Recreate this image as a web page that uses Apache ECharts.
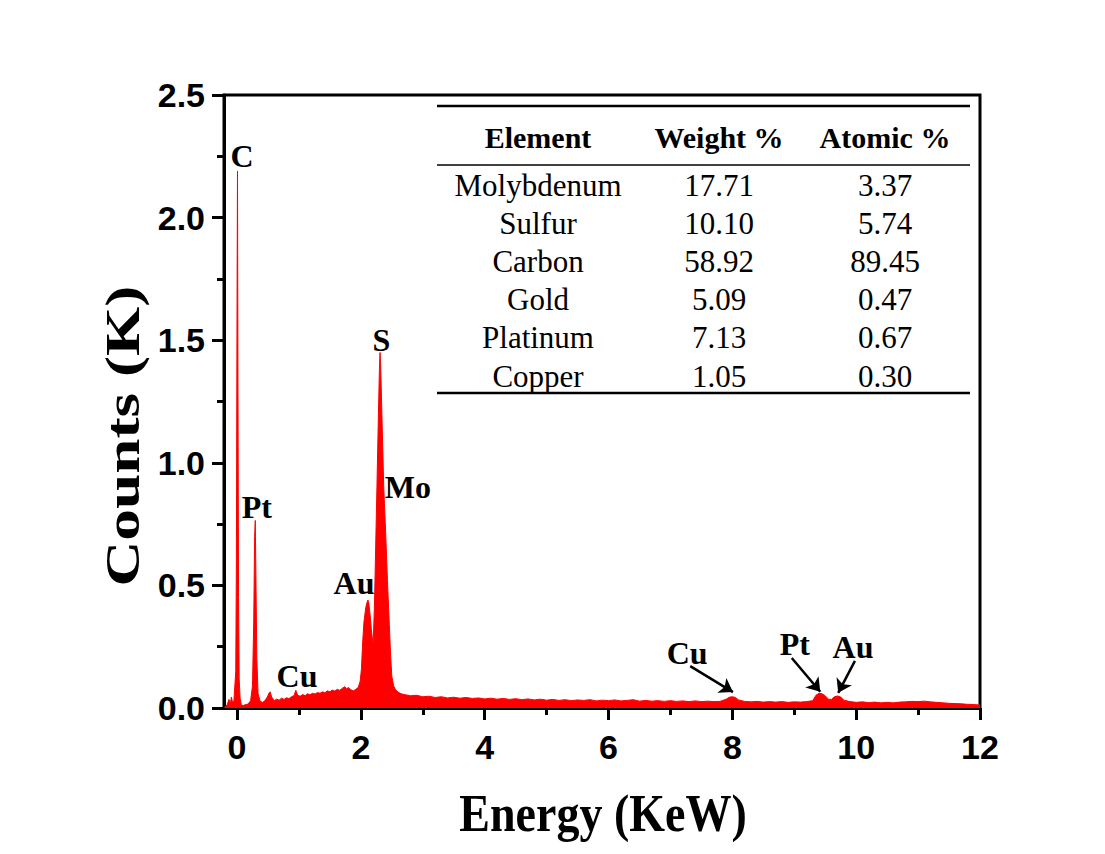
<!DOCTYPE html>
<html>
<head>
<meta charset="utf-8">
<script src="https://cdn.jsdelivr.net/npm/echarts@6/dist/echarts.min.js"></script>
<style>
html,body{margin:0;padding:0;background:#fff;}
#chart{width:1105px;height:854px;}
</style>
</head>
<body>
<div id="chart"></div>
<script>
// ---- Spectrum (energy in keV, counts in K) ----
const energyKeV = [
 -0.20,-0.16,-0.13,-0.11,-0.09,-0.07,-0.05,-0.04,-0.02,-0.01,0.0,0.008,0.016,0.025,0.035,0.05,0.07,0.10,0.14,0.18,
 0.22,0.25,0.27,0.285,0.295,0.305,0.32,0.34,0.37,0.41,0.45,0.49,0.52,0.535,0.56,
 0.60,0.64,0.68,0.72,0.76,0.80,0.84,0.88,0.92,0.95,0.98,1.02,1.06,1.10,1.14,1.18,1.22,1.26,1.30,1.34,1.38,1.42,1.46,1.50,
 1.54,1.58,1.62,1.66,1.70,1.74,1.77,1.80,1.84,1.88,1.92,1.96,1.99,2.01,2.03,2.05,2.08,2.10,2.115,2.13,2.15,2.17,2.19,2.20,
 2.22,2.24,2.26,2.28,2.29,2.30,2.31,2.32,2.34,2.37,2.40,2.43,2.46,2.48,2.50,2.53,2.56,2.60,2.65,
 2.7,2.8,2.9,3.0,3.1,3.2,3.3,3.4,3.5,3.6,3.7,3.8,3.9,4.0,4.1,4.2,4.3,4.4,4.5,4.6,4.7,4.8,4.9,5.0,
 5.1,5.2,5.3,5.4,5.5,5.6,5.7,5.8,5.9,6.0,6.1,6.2,6.3,6.4,6.5,6.6,6.7,6.8,6.9,7.0,7.1,7.2,7.3,7.4,7.5,7.6,7.7,7.8,
 7.9,7.95,8.0,8.05,8.1,8.2,8.3,8.4,8.5,8.6,8.7,8.8,8.9,9.0,9.1,9.2,9.3,9.35,9.4,9.45,9.5,9.55,9.6,9.65,9.7,9.75,9.8,9.9,
 10.0,10.1,10.2,10.3,10.4,10.5,10.6,10.7,10.8,10.9,11.0,11.1,11.2,11.3,11.4,11.5,11.6,11.7,11.8,11.9,12.0
];
const countsK = [
 0.004,0.012,0.035,0.015,0.045,0.02,0.03,0.03,0.15,0.6,1.6,2.19,1.3,0.45,0.12,0.04,0.012,0.01,0.014,0.016,
 0.03,0.09,0.35,0.70,0.765,0.55,0.20,0.06,0.03,0.022,0.03,0.045,0.062,0.066,0.045,
 0.03,0.036,0.032,0.04,0.035,0.042,0.038,0.046,0.05,0.072,0.052,0.048,0.055,0.05,0.058,0.054,0.06,0.057,0.063,0.06,0.066,0.062,0.07,0.066,
 0.073,0.069,0.076,0.072,0.08,0.087,0.078,0.084,0.074,0.07,0.076,0.085,0.11,0.16,0.27,0.35,0.41,0.43,0.44,0.425,0.38,0.32,0.275,0.265,
 0.42,0.66,0.9,1.15,1.27,1.38,1.45,1.40,1.2,0.9,0.72,0.52,0.34,0.22,0.13,0.09,0.075,0.065,0.058,
 0.055,0.05,0.052,0.046,0.048,0.043,0.046,0.041,0.044,0.04,0.043,0.039,0.041,0.037,0.04,0.036,0.039,0.035,0.038,0.034,0.037,0.033,0.036,0.032,
 0.035,0.031,0.034,0.03,0.033,0.031,0.034,0.029,0.032,0.03,0.033,0.029,0.031,0.034,0.028,0.031,0.028,0.03,0.027,0.03,0.027,0.029,0.026,0.029,0.026,0.028,0.026,0.027,
 0.036,0.044,0.046,0.043,0.033,0.027,0.025,0.027,0.024,0.026,0.024,0.026,0.023,0.025,0.024,0.026,0.03,0.052,0.06,0.058,0.05,0.036,0.035,0.046,0.049,0.045,0.032,0.026,
 0.023,0.025,0.022,0.024,0.021,0.023,0.021,0.024,0.025,0.027,0.026,0.028,0.025,0.023,0.021,0.019,0.018,0.017,0.015,0.014,0.012
];

// ---- Axis ticks ----
const xMajorTicks = [0, 2, 4, 6, 8, 10, 12];
const xMinorTicks = [1, 3, 5, 7, 9, 11];

// ---- Peak labels (text, energy keV, counts K) ----
const peakLabelText = ['C', 'Pt', 'Cu', 'Au', 'S', 'Mo', 'Cu', 'Pt', 'Au'];
const peakLabelKeV  = [0.08, 0.32, 0.97, 1.89, 2.33, 2.76, 7.27, 9.01, 9.95];
const peakLabelK    = [2.25, 0.82, 0.13, 0.51, 1.50, 0.90, 0.225, 0.26, 0.25];

// ---- Arrows (from -> to, in keV / K) ----
const arrowFromKeV = [7.32, 8.96, 9.98];
const arrowFromK   = [0.171, 0.204, 0.192];
const arrowToKeV   = [8.01, 9.42, 9.71];
const arrowToK     = [0.065, 0.066, 0.062];

// ---- Inset table ----
const tableHeader = ['Element', 'Weight %', 'Atomic %'];
const tableElements = ['Molybdenum', 'Sulfur', 'Carbon', 'Gold', 'Platinum', 'Copper'];
const tableWeight = ['17.71', '10.10', '58.92', '5.09', '7.13', '1.05'];
const tableAtomic = ['3.37', '5.74', '89.45', '0.47', '0.67', '0.30'];

const spectrum = energyKeV.map((e, i) => [e, countsK[i]]);

const SERIF = '"Liberation Serif", "Times New Roman", serif';
const SANS = '"Liberation Sans", Arial, sans-serif';

// table graphics
const tblLeft = 437, tblRight = 970;
const colX = [538, 719, 885];
const headerY = 137;
const rowY0 = 185, rowStep = 38.2;
const graphics = [
  {type: 'line', shape: {x1: tblLeft, y1: 106, x2: tblRight, y2: 106}, style: {stroke: '#000', lineWidth: 2.5}},
  {type: 'line', shape: {x1: tblLeft, y1: 165, x2: tblRight, y2: 165}, style: {stroke: '#000', lineWidth: 1.5}},
  {type: 'line', shape: {x1: tblLeft, y1: 393, x2: tblRight, y2: 393}, style: {stroke: '#000', lineWidth: 2.5}}
];
tableHeader.forEach((h, c) => graphics.push({
  type: 'text', x: colX[c], y: headerY,
  style: {text: h, font: 'bold 30px ' + SERIF, fill: '#000', align: 'center', verticalAlign: 'middle'}
}));
tableElements.forEach((el, r) => {
  [el, tableWeight[r], tableAtomic[r]].forEach((t, c) => graphics.push({
    type: 'text', x: colX[c], y: rowY0 + r * rowStep,
    style: {text: t, font: '31px ' + SERIF, fill: '#000', align: 'center', verticalAlign: 'middle'}
  }));
});
// axis titles
graphics.push({
  type: 'text', x: 603, y: 813, scaleY: 1.15,
  style: {text: 'Energy (KeW)', font: 'bold 46px ' + SERIF, fill: '#000', align: 'center', verticalAlign: 'middle'}
});
graphics.push({
  type: 'text', x: 123, y: 436, rotation: Math.PI / 2, scaleX: 1.32,
  style: {text: 'Counts (K)', font: 'bold 48px ' + SERIF, fill: '#000', align: 'center', verticalAlign: 'middle'}
});

const chart = echarts.init(document.getElementById('chart'), null, {renderer: 'svg'});
chart.setOption({
  animation: false,
  backgroundColor: '#fff',
  grid: {left: 224, top: 95, width: 756, height: 613, show: true, borderColor: '#000', borderWidth: 3, backgroundColor: 'transparent'},
  xAxis: [{
    type: 'value', min: -0.21, max: 12,
    axisLine: {onZero: false, lineStyle: {color: '#000', width: 3}},
    axisTick: {show: true, customValues: xMajorTicks, length: 12, lineStyle: {color: '#000', width: 3}},
    axisLabel: {customValues: xMajorTicks, margin: 22, color: '#000', fontFamily: SANS, fontWeight: 'bold', fontSize: 34},
    splitLine: {show: false}
  }, {
    type: 'value', min: -0.21, max: 12, position: 'bottom',
    axisLine: {show: false, onZero: false},
    axisTick: {show: true, customValues: xMinorTicks, length: 7, lineStyle: {color: '#000', width: 3}},
    axisLabel: {show: false},
    splitLine: {show: false}
  }],
  yAxis: {
    type: 'value', min: 0, max: 2.5, interval: 0.5,
    axisLine: {show: true, onZero: false, lineStyle: {color: '#000', width: 3}},
    axisTick: {show: true, length: 12, lineStyle: {color: '#000', width: 3}},
    minorTick: {show: true, splitNumber: 2, length: 7, lineStyle: {color: '#000', width: 3}},
    axisLabel: {margin: 19, color: '#000', fontFamily: SANS, fontWeight: 'bold', fontSize: 34, formatter: v => v.toFixed(1)},
    splitLine: {show: false}, minorSplitLine: {show: false}
  },
  series: [{
    type: 'line', xAxisIndex: 0, yAxisIndex: 0,
    data: spectrum, showSymbol: false, symbol: 'none', sampling: null,
    lineStyle: {color: '#ff0000', width: 1},
    areaStyle: {color: '#ff0000', opacity: 1},
    itemStyle: {color: '#ff0000'},
    silent: true,
    markLine: {
      silent: true, animation: false,
      symbol: ['none', 'arrow'], symbolSize: 13,
      lineStyle: {color: '#000', width: 2.5, type: 'solid'},
      itemStyle: {color: '#000'},
      label: {show: false},
      data: arrowFromKeV.map((x, i) => [{coord: [x, arrowFromK[i]]}, {coord: [arrowToKeV[i], arrowToK[i]]}])
    },
    markPoint: {
      silent: true, animation: false,
      symbol: 'circle', symbolSize: 1,
      itemStyle: {color: 'rgba(0,0,0,0)'},
      label: {show: true, position: 'inside', color: '#000', fontFamily: SERIF, fontWeight: 'bold', fontSize: 32, formatter: p => p.name},
      data: peakLabelText.map((t, i) => ({name: t, coord: [peakLabelKeV[i], peakLabelK[i]]}))
    }
  }],
  graphic: graphics
});
</script>
</body>
</html>
